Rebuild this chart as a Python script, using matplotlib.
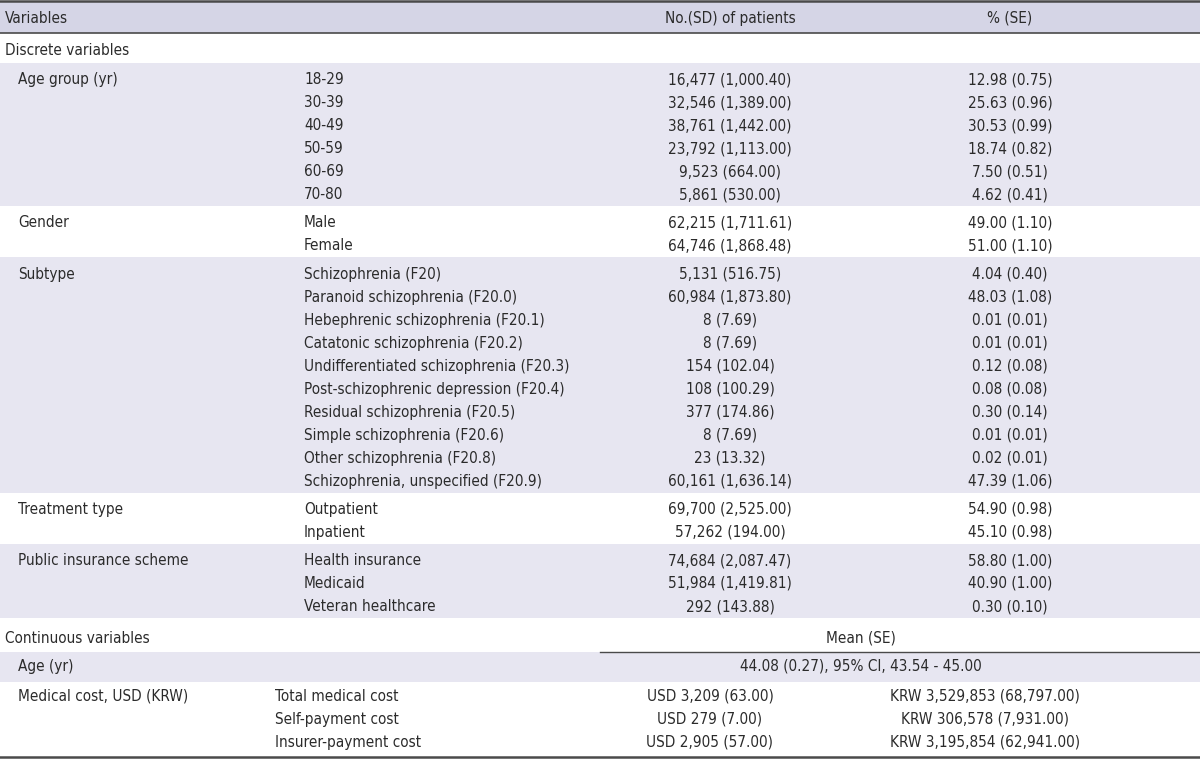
import matplotlib.pyplot as plt
from matplotlib.patches import Rectangle

# table content
header = ['Variables', 'No.(SD) of patients', '% (SE)']

groups = ['Age group (yr)', 'Gender', 'Subtype', 'Treatment type', 'Public insurance scheme']

age_levels = ['18-29', '30-39', '40-49', '50-59', '60-69', '70-80']
age_n = ['16,477 (1,000.40)', '32,546 (1,389.00)', '38,761 (1,442.00)',
         '23,792 (1,113.00)', '9,523 (664.00)', '5,861 (530.00)']
age_pct = ['12.98 (0.75)', '25.63 (0.96)', '30.53 (0.99)', '18.74 (0.82)',
           '7.50 (0.51)', '4.62 (0.41)']

gender_levels = ['Male', 'Female']
gender_n = ['62,215 (1,711.61)', '64,746 (1,868.48)']
gender_pct = ['49.00 (1.10)', '51.00 (1.10)']

subtype_levels = ['Schizophrenia (F20)', 'Paranoid schizophrenia (F20.0)',
                  'Hebephrenic schizophrenia (F20.1)', 'Catatonic schizophrenia (F20.2)',
                  'Undifferentiated schizophrenia (F20.3)',
                  'Post-schizophrenic depression (F20.4)',
                  'Residual schizophrenia (F20.5)', 'Simple schizophrenia (F20.6)',
                  'Other schizophrenia (F20.8)', 'Schizophrenia, unspecified (F20.9)']
subtype_n = ['5,131 (516.75)', '60,984 (1,873.80)', '8 (7.69)', '8 (7.69)',
             '154 (102.04)', '108 (100.29)', '377 (174.86)', '8 (7.69)',
             '23 (13.32)', '60,161 (1,636.14)']
subtype_pct = ['4.04 (0.40)', '48.03 (1.08)', '0.01 (0.01)', '0.01 (0.01)',
               '0.12 (0.08)', '0.08 (0.08)', '0.30 (0.14)', '0.01 (0.01)',
               '0.02 (0.01)', '47.39 (1.06)']

treat_levels = ['Outpatient', 'Inpatient']
treat_n = ['69,700 (2,525.00)', '57,262 (194.00)']
treat_pct = ['54.90 (0.98)', '45.10 (0.98)']

ins_levels = ['Health insurance', 'Medicaid', 'Veteran healthcare']
ins_n = ['74,684 (2,087.47)', '51,984 (1,419.81)', '292 (143.88)']
ins_pct = ['58.80 (1.00)', '40.90 (1.00)', '0.30 (0.10)']

age_mean = '44.08 (0.27), 95% CI, 43.54 - 45.00'
cost_levels = ['Total medical cost', 'Self-payment cost', 'Insurer-payment cost']
cost_usd = ['USD 3,209 (63.00)', 'USD 279 (7.00)', 'USD 2,905 (57.00)']
cost_krw = ['KRW 3,529,853 (68,797.00)', 'KRW 306,578 (7,931.00)',
            'KRW 3,195,854 (62,941.00)']

levels = [age_levels, gender_levels, subtype_levels, treat_levels, ins_levels]
counts = [age_n, gender_n, subtype_n, treat_n, ins_n]
pcts = [age_pct, gender_pct, subtype_pct, treat_pct, ins_pct]

# style
band_dark = '#d5d5e6'
band_light = '#e7e6f1'
txt = '#2b2b2b'
line_c = '#4a4a4a'
W, H = 1200, 759
row_h = 23
pad = 2.6
nudge = 1.5      # text sits a bit low in its row
cap_half = 5.6   # half of cap height in px, baseline offset
plt.rcParams['font.family'] = ['DejaVu Sans']
plt.rcParams['font.stretch'] = 'condensed'
fs = 11

fig = plt.figure(figsize=(12, 7.59), dpi=100)
ax = fig.add_axes([0, 0, 1, 1])
ax.set_xlim(0, W)
ax.set_ylim(H, 0)
ax.axis('off')

x_var, x_grp, x_lvl, x_n, x_pct = 5, 18, 304, 730, 1010

def put(x, y, s, ha='left'):
    # y is the visual middle of the capitals
    ax.text(x, y + cap_half, s, ha=ha, va='baseline', fontsize=fs, color=txt,
            fontstretch='condensed')

# header
ax.add_patch(Rectangle((0, 1), W, 32, color=band_dark, lw=0))
ax.axhline(1, color=line_c, lw=1.8)
ax.axhline(33, color=line_c, lw=1.2)
put(x_var, 17, header[0])
put(x_n, 17, header[1], 'center')
put(x_pct, 17, header[2], 'center')

put(x_var, 49, 'Discrete variables')

y = 63
for i, g in enumerate(groups):
    h = len(levels[i]) * row_h + 2 * pad
    if i % 2 == 0:
        ax.add_patch(Rectangle((0, y), W, h, color=band_light, lw=0))
    for j, lv in enumerate(levels[i]):
        yc = y + pad + row_h * (j + 0.5) + nudge
        if j == 0:
            put(x_grp, yc, g)
        put(x_lvl, yc, lv)
        put(x_n, yc, counts[i][j], 'center')
        put(x_pct, yc, pcts[i][j], 'center')
    y += h

# continuous part
cont_top = y
put(x_var, cont_top + 19, 'Continuous variables')
put(861, cont_top + 19, 'Mean (SE)', 'center')
y = cont_top + 34
ax.plot([600, W], [y, y], color=line_c, lw=1.0)
ax.add_patch(Rectangle((0, y), W, 30, color=band_light, lw=0))
put(x_grp, y + 13, 'Age (yr)')
put(861, y + 13, age_mean, 'center')
y += 30
for j, lv in enumerate(cost_levels):
    yc = y + 1.5 + row_h * (j + 0.5)
    if j == 0:
        put(x_grp, yc, 'Medical cost, USD (KRW)')
    put(275, yc, lv)
    put(710, yc, cost_usd[j], 'center')
    put(985, yc, cost_krw[j], 'center')
ax.axhline(757, color=line_c, lw=1.8)

fig.savefig('out.png', dpi=100)
